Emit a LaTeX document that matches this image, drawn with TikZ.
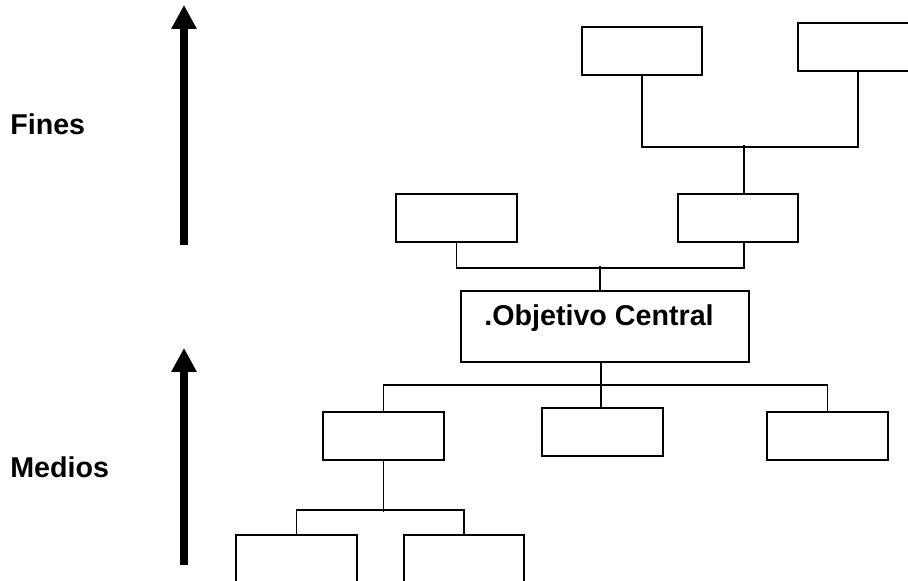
\documentclass[tikz,border=0pt]{standalone}
\usepackage{fontspec}
\setmainfont{Liberation Sans}
\usetikzlibrary{arrows.meta,calc}
\tikzset{
  x=0.75pt, y=-0.75pt,
  box/.style={draw, line width=1.5pt, inner sep=0pt, minimum width=#1*0.75pt, minimum height=48*0.75pt},
  box/.default=121,
  conn/.style={line width=1.4pt},
  bigarrow/.style={line width=6pt, -{Triangle[width=18pt,length=18pt]}},
  lbl/.style={font=\fontsize{21.5}{25}\selectfont\bfseries, inner sep=0pt}
}
\begin{document}
\begin{tikzpicture}
\path[use as bounding box, clip] (0,0) rectangle (908,581);
% arrows
\coordinate (fa0) at (184,245);
\coordinate (fa1) at (184,5);
\coordinate (ma0) at (184,565);
\coordinate (ma1) at (184,348);
\draw[bigarrow] (fa0) -- (fa1);
\draw[bigarrow] (ma0) -- (ma1);
% labels
\node[lbl, anchor=base west] (fines) at (10,135) {Fines};
\node[lbl, anchor=base west] (medios) at (10,477) {Medios};
% boxes
\node[box=120] (TL) at (642,51) {};
\node[box=120] (TR) at (858,47) {};
\node[box=121] (ML) at (456.5,218) {};
\node[box=120] (MR) at (738,218) {};
\node[draw, line width=1.5pt, inner sep=0pt, minimum width=288*0.75pt, minimum height=71*0.75pt] (C) at (605,326.5) {};
\node[lbl] (ctext) at (599,318.5) {.Objetivo Central};
\node[box=121] (BL) at (383.5,436) {};
\node[box=121] (BM) at (602.5,432) {};
\node[box=121] (BR) at (827.5,436) {};
\node[box=121] (BBL) at (296.5,559) {};
\node[box=120] (BBR) at (464,559) {};
% connectors top
\draw[conn] (TL.south) -- ++(0,71) -| (TR.south);
\draw[conn] ($(MR.north)+(6,0)$) -- ($(MR.north)+(6,-48)$);
% connectors middle
\draw[conn] (ML.south) -- ++(0,25) -| ($(MR.south)+(6,0)$);
\draw[conn] ($(C.north)+(-5,0)$) -- ++(0,-24);
% connectors below central
\draw[conn] ($(C.south)+(-4,0)$) -- ($(BM.north)+(-1.5,2)$);
\draw[conn] (BL.north) -- ++(0,-26) -| (BR.north);
% connectors lower
\draw[conn] (BL.south) -- ++(0,51);
\draw[conn] (BBL.north) -- ++(0,-24) -| (BBR.north);
\end{tikzpicture}
\end{document}
